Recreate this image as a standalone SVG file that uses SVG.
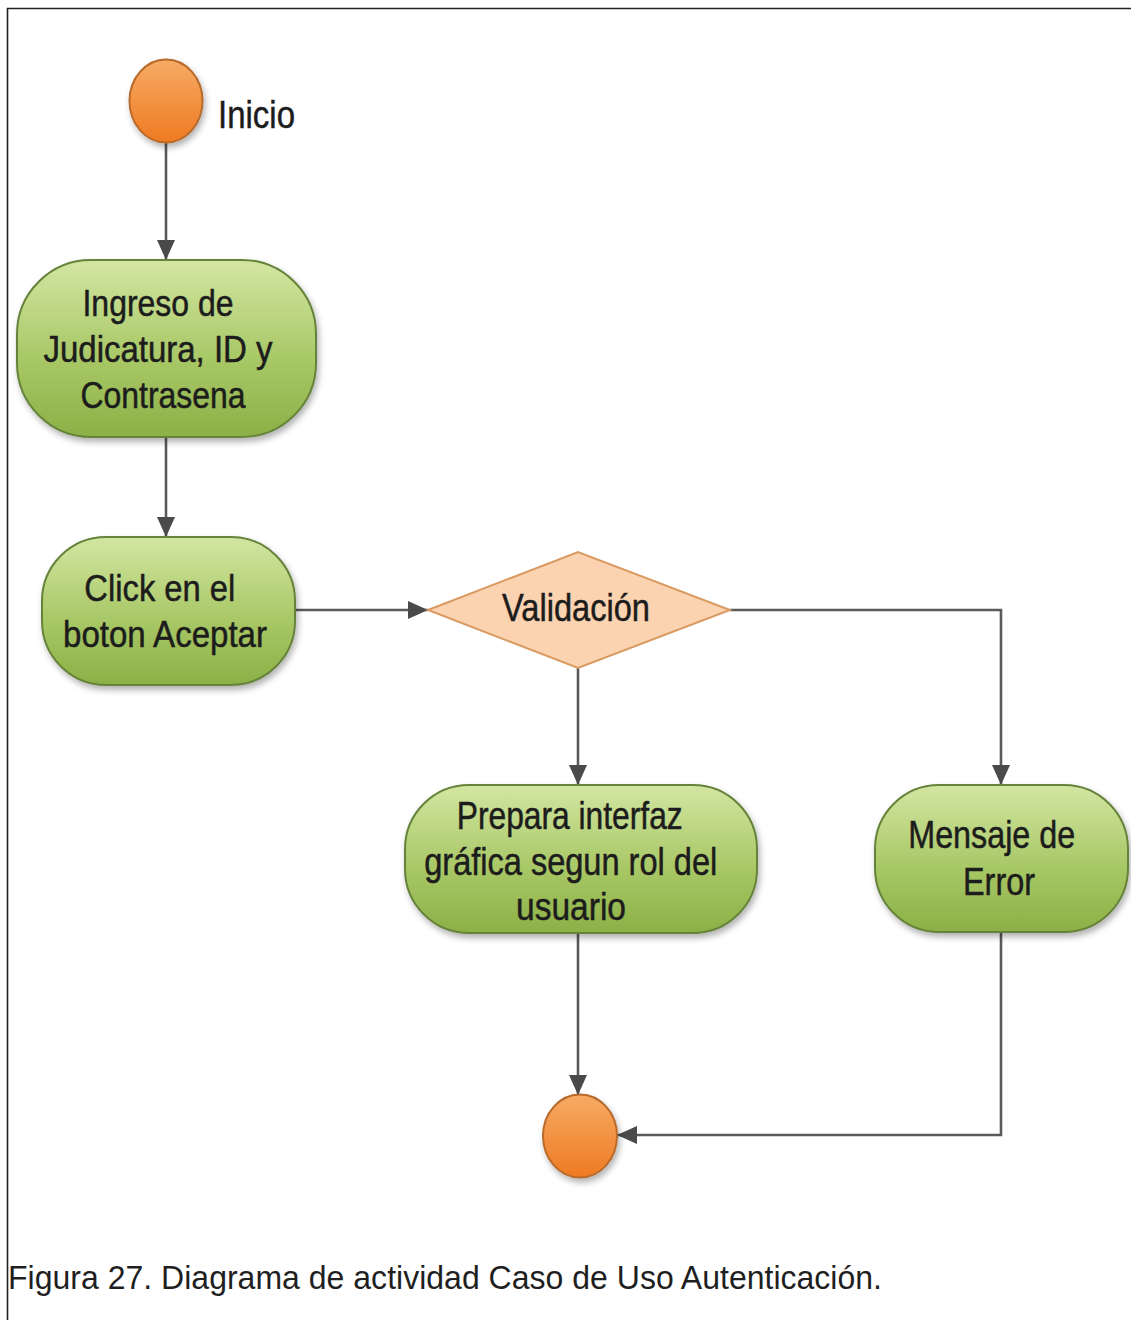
<svg xmlns="http://www.w3.org/2000/svg" width="1131" height="1320" viewBox="0 0 1131 1320">
  <defs>
    <linearGradient id="gGreen" x1="0" y1="0" x2="0" y2="1">
      <stop offset="0" stop-color="#d3e6a2"/>
      <stop offset="0.55" stop-color="#a9c867"/>
      <stop offset="1" stop-color="#8cb046"/>
    </linearGradient>
    <linearGradient id="gOrange" x1="0" y1="0" x2="0" y2="1">
      <stop offset="0" stop-color="#f6ab64"/>
      <stop offset="1" stop-color="#ef7a22"/>
    </linearGradient>
    <filter id="shadow" x="-20%" y="-20%" width="140%" height="150%">
      <feDropShadow dx="2" dy="4" stdDeviation="3" flood-color="#000" flood-opacity="0.3"/>
    </filter>
    <marker id="arrow" viewBox="0 0 20 18" refX="20" refY="9" markerWidth="20" markerHeight="18" markerUnits="userSpaceOnUse" orient="auto">
      <path d="M0,0 L20,9 L0,18 Z" fill="#4a4a4a"/>
    </marker>
  </defs>
  <style>
    .frame { stroke: #222; stroke-width: 1.6; fill: none; }
    .act { fill: url(#gGreen); stroke: #66833a; stroke-width: 2; filter: url(#shadow); }
    .state { fill: url(#gOrange); stroke: #b86a2c; stroke-width: 2; filter: url(#shadow); }
    .decision { fill: #fcd3b0; stroke: #d99a62; stroke-width: 2; }
    .lbl { font-family: "Liberation Sans", Arial, sans-serif; fill: #1c1c1c; stroke: #1c1c1c; stroke-width: 0.5; text-anchor: middle; }
    .edge { fill: none; stroke: #5a5a5a; stroke-width: 2.6; marker-end: url(#arrow); }
    .caption { font-family: "Liberation Sans", Arial, sans-serif; font-size: 34px; fill: #1f1f1f; }
  </style>

  <rect width="1131" height="1320" fill="#ffffff"/>
  <!-- figure frame -->
  <path class="frame" d="M7.5,1320 L7.5,8.5 L1131,8.5"/>

  <!-- connectors -->
  <g id="connectors">
    <path class="edge" d="M166,143 L166,260"/>
    <path class="edge" d="M166,437 L166,537"/>
    <path class="edge" d="M295,610 L428,610"/>
    <path class="edge" d="M578,668 L578,785"/>
    <path class="edge" d="M730,610 L1001,610 L1001,785"/>
    <path class="edge" d="M578,933 L578,1095"/>
    <path class="edge" d="M1001,932 L1001,1135 L617,1135"/>
  </g>

  <!-- initial state -->
  <g id="inicio">
    <ellipse class="state" cx="166" cy="101" rx="36.5" ry="41.5"/>
    <text class="lbl" x="218" y="128" font-size="39" style="text-anchor:start" textLength="77" lengthAdjust="spacingAndGlyphs">Inicio</text>
  </g>

  <g id="ingreso">
    <rect class="act" x="17" y="260" width="299" height="177" rx="74" ry="74"/>
    <text class="lbl" font-size="36">
      <tspan x="163" y="316" textLength="151" lengthAdjust="spacingAndGlyphs">Ingreso de</tspan>
      <tspan x="163" y="362" textLength="229" lengthAdjust="spacingAndGlyphs">Judicatura, ID y</tspan>
      <tspan x="163" y="408" textLength="165" lengthAdjust="spacingAndGlyphs">Contrasena</tspan>
    </text>
  </g>

  <g id="click">
    <rect class="act" x="42" y="537" width="253" height="148" rx="64" ry="64"/>
    <text class="lbl" font-size="37">
      <tspan x="165" y="601" textLength="151" lengthAdjust="spacingAndGlyphs">Click en el</tspan>
      <tspan x="165" y="647" textLength="204" lengthAdjust="spacingAndGlyphs">boton Aceptar</tspan>
    </text>
  </g>

  <g id="validacion">
    <polygon class="decision" points="428,610 578,552 730,610 578,668"/>
    <text class="lbl" x="576" y="621" font-size="38" textLength="148" lengthAdjust="spacingAndGlyphs">Validación</text>
  </g>

  <g id="prepara">
    <rect class="act" x="405" y="785" width="352" height="148" rx="64" ry="64"/>
    <text class="lbl" font-size="38">
      <tspan x="575" y="829" textLength="226" lengthAdjust="spacingAndGlyphs">Prepara interfaz</tspan>
      <tspan x="576" y="875" textLength="293" lengthAdjust="spacingAndGlyphs">gráfica segun rol del</tspan>
      <tspan x="571" y="920" textLength="110" lengthAdjust="spacingAndGlyphs">usuario</tspan>
    </text>
  </g>

  <g id="error">
    <rect class="act" x="875" y="785" width="253" height="147" rx="64" ry="64"/>
    <text class="lbl" font-size="38">
      <tspan x="997" y="848" textLength="167" lengthAdjust="spacingAndGlyphs">Mensaje de</tspan>
      <tspan x="999" y="895" textLength="72" lengthAdjust="spacingAndGlyphs">Error</tspan>
    </text>
  </g>

  <!-- final state -->
  <g id="fin">
    <ellipse class="state" cx="580" cy="1136" rx="37" ry="41.5"/>
  </g>

  <text class="caption" x="8" y="1289" textLength="874" lengthAdjust="spacingAndGlyphs">Figura 27. Diagrama de actividad Caso de Uso Autenticación.</text>
</svg>
